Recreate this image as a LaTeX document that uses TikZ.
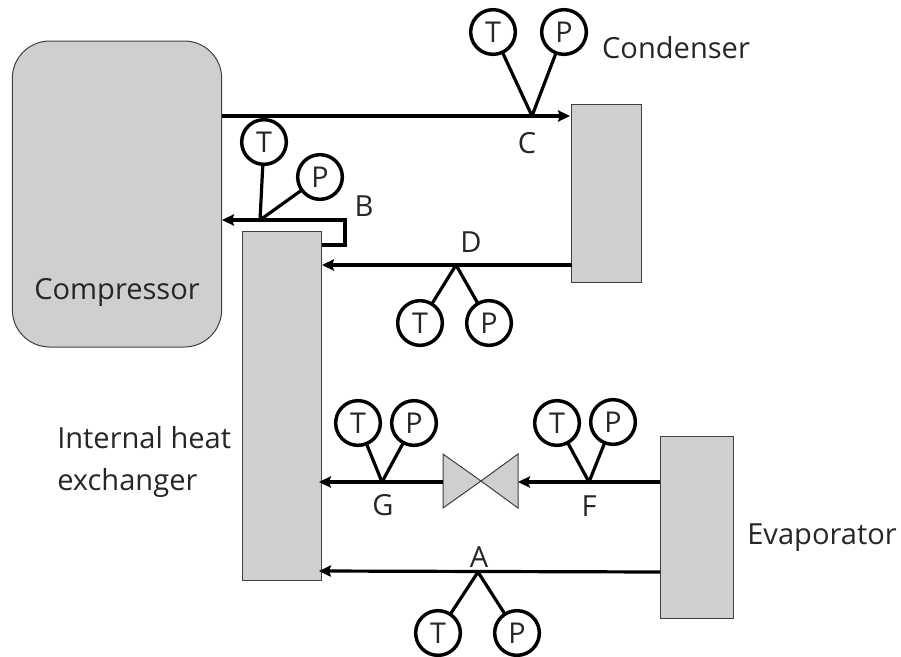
\documentclass[tikz,border=0pt]{standalone}
\usepackage{fontspec}
\setmainfont{Open Sans}
\usetikzlibrary{arrows.meta}
\definecolor{boxgray}{HTML}{D0CECE}
\definecolor{edgegray}{HTML}{404040}
\tikzset{
  x=0.75pt,y=-0.75pt,
  unit/.style={draw=edgegray,line width=0.75pt,fill=boxgray,inner sep=0pt},
  gauge/.style={circle,draw=black,line width=2.6pt,fill=white,minimum size=33.5pt,inner sep=0pt,text=black!85,font=\fontsize{21.5}{21.5}\selectfont},
  lbl/.style={inner sep=0pt,font=\fontsize{21.8}{31.5}\selectfont,align=left,text=black!85},
  flowline/.style={-{Stealth[length=9pt,width=8.5pt,inset=1.5pt]},line width=2.4pt,draw=black},
  stem/.style={draw=black,line width=2.4pt},
}
\begin{document}
\begin{tikzpicture}
\useasboundingbox (0,0) rectangle (901,657);
% equipment
\node[unit,rounded corners=28pt,minimum width=157pt,minimum height=229.5pt] (comp) at (117,194) {};
\node[unit,minimum width=52pt,minimum height=133.5pt] (cond) at (606.5,193) {};
\node[unit,minimum width=59pt,minimum height=262pt] (ihx) at (282,406) {};
\node[unit,minimum width=55pt,minimum height=137pt] (evap) at (697,527.5) {};
% valve
\coordinate (vc) at (481,481);
\draw[unit] (443,454) -- (vc) -- (443,508) -- cycle;
\draw[unit] (518,454) -- (vc) -- (518,508) -- cycle;
\coordinate (vl) at (443,482);
\coordinate (vr) at (518,482);
% pipe junctions
\coordinate (cL) at (222,116);
\coordinate (cR) at (570,116);
\coordinate (cJ) at (532,116);
\coordinate (bJ) at (260,220);
\coordinate (bL) at (222,220);
\coordinate (b1) at (345,220);
\coordinate (b2) at (345,245);
\coordinate (b3) at (322,245);
\coordinate (dR) at (572,265);
\coordinate (dL) at (322,265);
\coordinate (dJ) at (456,265);
\coordinate (gL) at (319,482);
\coordinate (gJ) at (382,482);
\coordinate (fR) at (660,482);
\coordinate (fJ) at (589,482);
\coordinate (aR) at (660,572);
\coordinate (aL) at (319,571);
\coordinate (aJ) at (478,572);
% pipes
\draw[flowline] (cL) -- (cR);
\draw[flowline] (b3) -- (b2) -- (b1) -- (bL);
\draw[flowline] (dR) -- (dL);
\draw[flowline] (vl) -- (gL);
\draw[flowline] (fR) -- (vr);
\draw[flowline] (aR) -- (aL);
% stems
\draw[stem] (493,32) -- (cJ);
\draw[stem] (564,32) -- (cJ);
\draw[stem] (264,142) -- (bJ);
\draw[stem] (320,177) -- (bJ);
\draw[stem] (420,323) -- (dJ);
\draw[stem] (489,323) -- (dJ);
\draw[stem] (358,423) -- (gJ);
\draw[stem] (414,423) -- (gJ);
\draw[stem] (557,423) -- (fJ);
\draw[stem] (613,422) -- (fJ);
\draw[stem] (438,633) -- (aJ);
\draw[stem] (517,633) -- (aJ);
% gauges
\node[gauge] (cT) at (493,32) {T};
\node[gauge] (cP) at (564,32) {P};
\node[gauge] (bT) at (264,142) {T};
\node[gauge] (bP) at (320,177) {P};
\node[gauge] (dT) at (420,323) {T};
\node[gauge] (dP) at (489,323) {P};
\node[gauge] (gT) at (358,423) {T};
\node[gauge] (gP) at (414,423) {P};
\node[gauge] (fT) at (557,423) {T};
\node[gauge] (fP) at (613,422) {P};
\node[gauge] (aT) at (438,633) {T};
\node[gauge] (aP) at (517,633) {P};
% labels
\node[lbl] (t1) at (117,292) {Compressor};
\node[lbl] (t2) at (676,48) {Condenser};
\node[lbl,anchor=west] (t3) at (57,462) {Internal heat\\exchanger};
\node[lbl] (t4) at (822,538) {Evaporator};
\node[lbl] (lA) at (479,557) {A};
\node[lbl] (lB) at (364,206) {B};
\node[lbl] (lC) at (527,143) {C};
\node[lbl] (lD) at (471,242) {D};
\node[lbl] (lF) at (589,506) {F};
\node[lbl] (lG) at (383,505) {G};
\end{tikzpicture}
\end{document}
